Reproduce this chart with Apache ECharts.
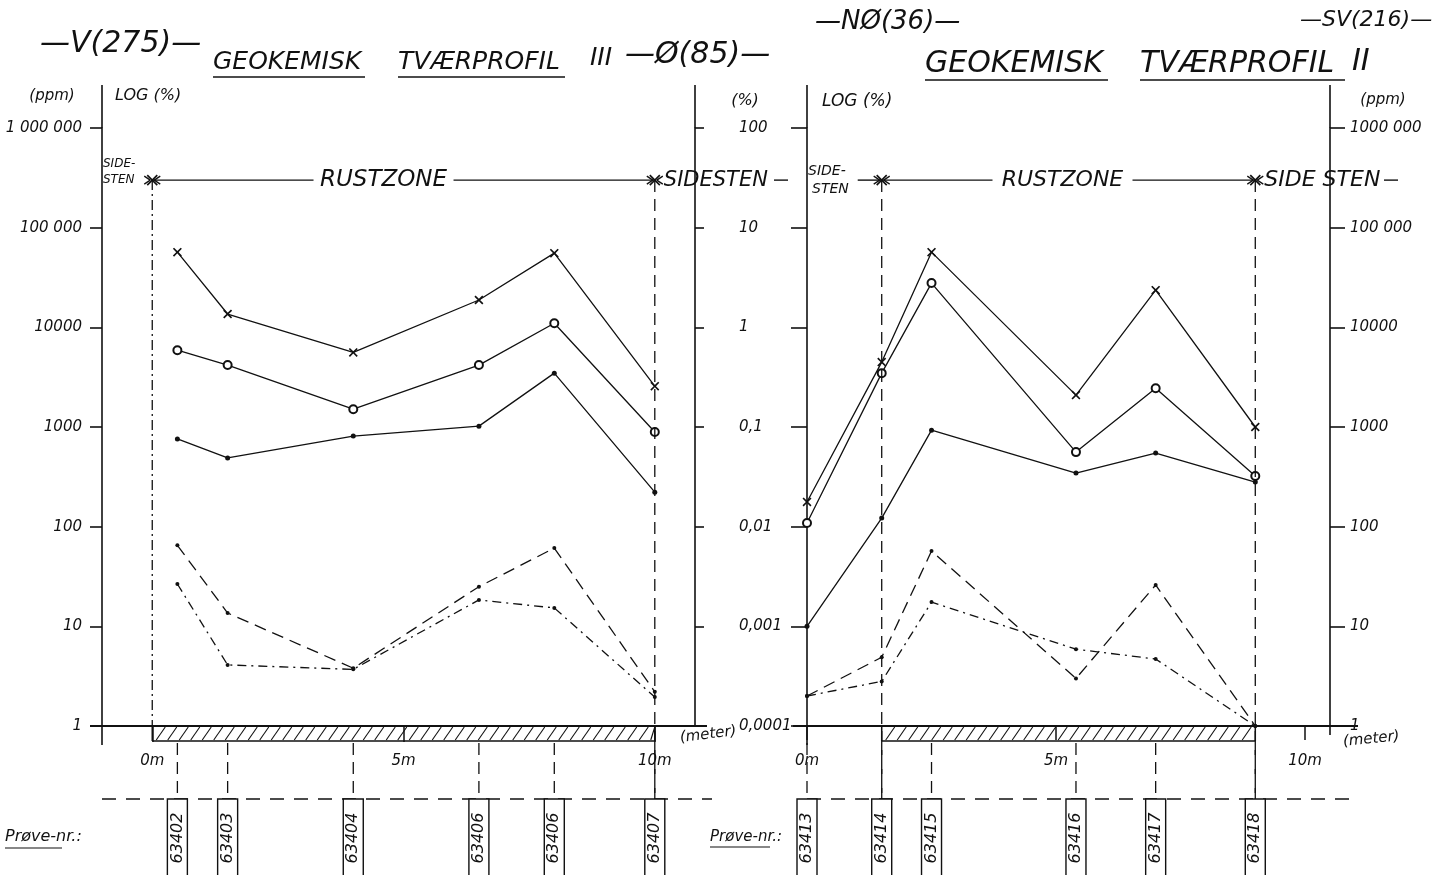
<!DOCTYPE html>
<html><head><meta charset="utf-8">
<script src="https://cdn.jsdelivr.net/npm/echarts@6/dist/echarts.min.js"></script>
<style>html,body{margin:0;padding:0;background:#fff}#c{width:1438px;height:875px}</style>
</head><body><div id="c"></div>
<script>
// ---- Profile III (left), values in ppm ----
const metersIII = [0.5, 1.5, 4, 6.5, 8, 10];
const samplesIII = ['63402', '63403', '63404', '63406', '63406', '63407'];
const iiiCross = [56800, 13600, 5600, 18800, 55500, 2570];
const iiiCircle = [5900, 4180, 1510, 4180, 11000, 890];
const iiiDot = [760, 490, 810, 1020, 3470, 222];
const iiiDash = [65, 13.6, 3.8, 25, 61, 2.2];
const iiiDashDot = [26.6, 4.1, 3.7, 18.4, 15.3, 1.95];

// ---- Profile II (right), values in % ----
const metersII = [0, 1.5, 2.5, 5.4, 7, 9];
const samplesII = ['63413', '63414', '63415', '63416', '63417', '63418'];
const iiCross = [0.0177, 0.448, 5.68, 0.209, 2.36, 0.1];
const iiCircle = [0.0109, 0.347, 2.78, 0.056, 0.245, 0.0322];
const iiDot = [0.001, 0.0122, 0.093, 0.0345, 0.0547, 0.028];
const iiDash = [0.0002, 0.00049, 0.0057, 0.0003, 0.0026, 0.0001];
const iiDashDot = [0.0002, 0.00028, 0.00175, 0.00059, 0.00047, 0.0001];

// ---- tick labels ----
const ppmLabelsL = ['1', '10', '100', '1000', '10000', '100 000', '1 000 000'];
const pctLabels = ['0,0001', '0,001', '0,01', '0,1', '1', '10', '100'];
const ppmLabelsR = ['1', '10', '100', '1000', '10000', '100 000', '1000 000'];
const meterTicks = [0, 5, 10];
const meterLabels = ['0m', '5m', '10m'];

const INK = '#111';
const FONT = 'DejaVu Sans';
const chart = echarts.init(document.getElementById('c'));

const crossPath = 'path://M0 1.3 L1.3 0 L5 3.7 L8.7 0 L10 1.3 L6.3 5 L10 8.7 L8.7 10 L5 6.3 L1.3 10 L0 8.7 L3.7 5 Z';
const styles = {
  cross: { symbol: crossPath, size: 9, fill: INK, bw: 0, dash: 'solid' },
  circle: { symbol: 'emptyCircle', size: 8, fill: INK, bw: 1.3, dash: 'solid' },
  dot: { symbol: 'circle', size: 5, fill: INK, bw: 0, dash: 'solid' },
  dash: { symbol: 'circle', size: 4, fill: INK, bw: 0, dash: [12, 7] },
  dashdot: { symbol: 'circle', size: 4, fill: INK, bw: 0, dash: [9, 5, 2, 5] }
};
function mk(name, xs, ys, xi, yi, st) {
  return {
    name, type: 'line', xAxisIndex: xi, yAxisIndex: yi,
    data: xs.map((x, i) => [x, ys[i]]),
    symbol: st.symbol, symbolSize: st.size, showSymbol: true,
    lineStyle: { color: INK, width: 1.3, type: st.dash },
    itemStyle: { color: st.fill, borderColor: INK, borderWidth: st.bw },
    emphasis: { disabled: true }, z: 5
  };
}
const txt = { color: INK, fontFamily: FONT, fontStyle: 'italic' };
const lineSt = { color: INK, width: 1.6 };
function logIdx(v, off) { return Math.round(Math.log10(v)) + off; }

const xBase = (min, max, grid, tickLen) => ({
  gridIndex: grid, type: 'value', min, max,
  axisLine: { show: true, onZero: false, lineStyle: { color: INK, width: 2 } },
  axisTick: { show: true, customValues: meterTicks, length: tickLen, lineStyle: { color: INK, width: 1.5 } },
  axisLabel: { customValues: meterTicks, formatter: v => meterLabels[meterTicks.indexOf(v)], margin: 28, fontSize: 15, ...txt },
  splitLine: { show: false }
});

chart.setOption({
  backgroundColor: '#fff',
  animation: false,
  grid: [
    { left: 102, top: 128, width: 593, height: 598 },
    { left: 807, top: 128, width: 523, height: 598 }
  ],
  xAxis: [xBase(-1, 10.8, 0, 16), xBase(0, 10.5, 1, 14)],
  yAxis: [
    { gridIndex: 0, type: 'log', logBase: 10, min: 1, max: 1e6, position: 'left',
      axisLine: { show: true, onZero: false, lineStyle: lineSt },
      axisTick: { show: true, length: 12, lineStyle: lineSt },
      axisLabel: { formatter: v => ppmLabelsL[logIdx(v, 0)], margin: 20, fontSize: 15, ...txt },
      splitLine: { show: false } },
    { gridIndex: 0, type: 'log', logBase: 10, min: 1e-4, max: 100, position: 'right',
      axisLine: { show: true, onZero: false, lineStyle: lineSt },
      axisTick: { show: true, length: 9, lineStyle: lineSt },
      axisLabel: { show: false }, splitLine: { show: false } },
    { gridIndex: 1, type: 'log', logBase: 10, min: 1e-4, max: 100, position: 'left',
      axisLine: { show: true, onZero: false, lineStyle: lineSt },
      axisTick: { show: true, length: 16, lineStyle: lineSt },
      axisLabel: { formatter: v => pctLabels[logIdx(v, 4)], margin: 68, align: 'left', fontSize: 15, ...txt },
      splitLine: { show: false } },
    { gridIndex: 1, type: 'log', logBase: 10, min: 1, max: 1e6, position: 'right',
      axisLine: { show: true, onZero: false, lineStyle: lineSt },
      axisTick: { show: true, length: 15, lineStyle: lineSt },
      axisLabel: { formatter: v => ppmLabelsR[logIdx(v, 0)], margin: 20, fontSize: 15, ...txt },
      splitLine: { show: false } }
  ],
  series: [
    mk('III-x', metersIII, iiiCross, 0, 0, styles.cross),
    mk('III-o', metersIII, iiiCircle, 0, 0, styles.circle),
    mk('III-dot', metersIII, iiiDot, 0, 0, styles.dot),
    mk('III-dash', metersIII, iiiDash, 0, 0, styles.dash),
    mk('III-dashdot', metersIII, iiiDashDot, 0, 0, styles.dashdot),
    mk('II-x', metersII, iiCross, 1, 2, styles.cross),
    mk('II-o', metersII, iiCircle, 1, 2, styles.circle),
    mk('II-dot', metersII, iiDot, 1, 2, styles.dot),
    mk('II-dash', metersII, iiDash, 1, 2, styles.dash),
    mk('II-dashdot', metersII, iiDashDot, 1, 2, styles.dashdot)
  ]
});

// ---- decorations (positions derived from the axes) ----
const G = [];
function L(x1, y1, x2, y2, o = {}) {
  G.push({ type: 'line', silent: true, z: o.z || 10,
    shape: { x1, y1, x2, y2 },
    style: { stroke: INK, lineWidth: o.w || 1.3, lineDash: o.dash || null } });
}
function T(text, x, y, size, o = {}) {
  G.push({ type: 'text', silent: true, z: o.z || 12, x, y, rotation: o.rot || 0,
    style: { text, fill: INK, fontFamily: FONT, fontStyle: 'italic', fontSize: size,
      align: o.align || 'left', verticalAlign: o.va || 'middle' } });
}
function cross(x, y, s) { L(x - s, y - s, x + s, y + s, { w: 1.6 }); L(x - s, y + s, x + s, y - s, { w: 1.6 }); }
function arrowTo(x, y, dir) { L(x + dir * 8, y - 4, x + dir * 2, y, { w: 1.3 }); L(x + dir * 8, y + 4, x + dir * 2, y, { w: 1.3 }); }

function panel(xi, yi, meters, samples, cfg) {
  const X = v => chart.convertToPixel({ xAxisIndex: xi }, v);
  const Y = v => chart.convertToPixel({ yAxisIndex: yi }, v);
  const yBase = Y(cfg.yMin), yTop = Y(cfg.yMax), yRust = Y(cfg.yRust);
  const axL = X(cfg.xMin), axR = X(cfg.xMax);
  const xa = X(cfg.zone[0]), xb = X(cfg.zone[1]);
  const yBox = 799;
  // axis extensions
  L(axL, 85, axL, yTop, { w: 1.6 });
  L(axL, yBase, axL, yBase + 19, { w: 1.6 });
  L(axR, 85, axR, yTop, { w: 1.6 });
  if (cfg.rightDown) L(axR, yBase, axR, yBase + cfg.rightDown, { w: 1.6 });
  L(axL - cfg.extL, yBase, axL, yBase, { w: 2 });
  L(axR, yBase, axR + cfg.extR, yBase, { w: 2 });
  // hatched bar
  const hb = yBase + 15;
  L(xa, yBase, xa, hb, { w: 1.5 }); L(xb, yBase, xb, hb, { w: 1.5 }); L(xa, hb, xb, hb, { w: 1.5 });
  for (let x = xa + 4; x < xb - 3; x += 11.5) L(x, hb - 1, Math.min(x + 9, xb), yBase + 1, { w: 1.1 });
  // zone boundaries
  L(xa, yRust, xa, cfg.aDown, { dash: cfg.aDash });
  L(xb, yRust, xb, cfg.bDown, { dash: [12, 7] });
  // rust zone arrow line
  const cx = (xa + xb) / 2 + cfg.textShift;
  L(xa, yRust, cx - 70, yRust, { w: 1.4 });
  L(cx + 70, yRust, xb, yRust, { w: 1.4 });
  T('RUSTZONE', cx, yRust, cfg.rustSize, { align: 'center' });
  cross(xa, yRust, 5); cross(xb, yRust, 5);
  arrowTo(xa, yRust, 1); arrowTo(xb, yRust, -1); arrowTo(xa, yRust, -1); arrowTo(xb, yRust, 1);
  L(xa - cfg.sideLeftLine, yRust, xa, yRust, { w: 1.4 });
  T('SIDE-', cfg.sideX, yRust + cfg.sideDy[0], cfg.sideSize);
  T('STEN', cfg.sideX + cfg.sideX2, yRust + cfg.sideDy[1], cfg.sideSize);
  T(cfg.sideRightText, xb + 9, yRust, cfg.sideRightSize);
  L(cfg.sideRightEnd - 14, yRust, cfg.sideRightEnd, yRust, { w: 1.4 });
  // sample lines and boxes
  L(cfg.hStart, yBox, cfg.hEnd, yBox, { dash: [14, 10] });
  meters.forEach((m, i) => {
    const x = X(m);
    L(x, yBase + 17, x, yBox, { dash: [12, 7] });
    G.push({ type: 'rect', silent: true, z: 11, shape: { x: x - 10, y: yBox, width: 20, height: 82 },
      style: { fill: '#fff', stroke: INK, lineWidth: 1.4 } });
    T(samples[i], x, yBox + 39, 16, { align: 'center', rot: Math.PI / 2, z: 13 });
  });
}

panel(0, 0, metersIII, samplesIII, {
  yMin: 1, yMax: 1e6, yRust: 3e5, xMin: -1, xMax: 10.8, zone: [0, 10],
  extL: 12, extR: 12, aDash: [10, 4, 2, 4], aDown: 726, bDown: 799,
  textShift: -20, rustSize: 23, sideX: 103, sideX2: 0, sideDy: [-16, 0], sideSize: 12, sideLeftLine: 0,
  sideRightText: 'SIDESTEN', sideRightSize: 21, sideRightEnd: 788,
  hStart: 102, hEnd: 712
});
panel(1, 2, metersII, samplesII, {
  yMin: 1e-4, yMax: 100, yRust: 30, xMin: 0, xMax: 10.5, zone: [1.5, 9],
  extL: 14, extR: 28, rightDown: 9, aDash: [12, 7], aDown: 875, bDown: 799,
  textShift: -6, rustSize: 22, sideX: 808, sideX2: 4, sideDy: [-9, 9], sideSize: 14, sideLeftLine: 24,
  sideRightText: 'SIDE STEN', sideRightSize: 22, sideRightEnd: 1398,
  hStart: 807, hEnd: 1358
});

// headers
T('(ppm)', 52, 96, 15, { align: 'center' });
T('LOG (%)', 115, 96, 16);
T('(%)', 745, 101, 16, { align: 'center' });
T('LOG (%)', 822, 102, 17);
T('(ppm)', 1383, 100, 15, { align: 'center' });
T('(meter)', 680, 738, 15, { rot: 0.12 });
T('(meter)', 1343, 742, 15, { rot: 0.1 });
// titles
T('—V(275)—', 40, 44, 30);
T('GEOKEMISK', 213, 62, 25);
T('TVÆRPROFIL', 398, 62, 25);
T('III', 590, 58, 25);
T('—Ø(85)—', 625, 55, 30);
L(213, 77, 365, 77, { w: 1.5 }); L(398, 77, 565, 77, { w: 1.5 });
T('—NØ(36)—', 815, 22, 26);
T('GEOKEMISK', 925, 64, 30);
T('TVÆRPROFIL', 1140, 64, 30);
T('II', 1352, 62, 30);
T('—SV(216)—', 1300, 20, 22);
L(925, 80, 1108, 80, { w: 1.5 }); L(1140, 80, 1345, 80, { w: 1.5 });
// sample number captions
T('Prøve-nr.:', 5, 837, 16);
L(5, 848, 62, 848, { w: 1.2 });
T('Prøve-nr.:', 710, 837, 15);
L(710, 847, 770, 847, { w: 1.2 });

chart.setOption({ graphic: G });
</script></body></html>
